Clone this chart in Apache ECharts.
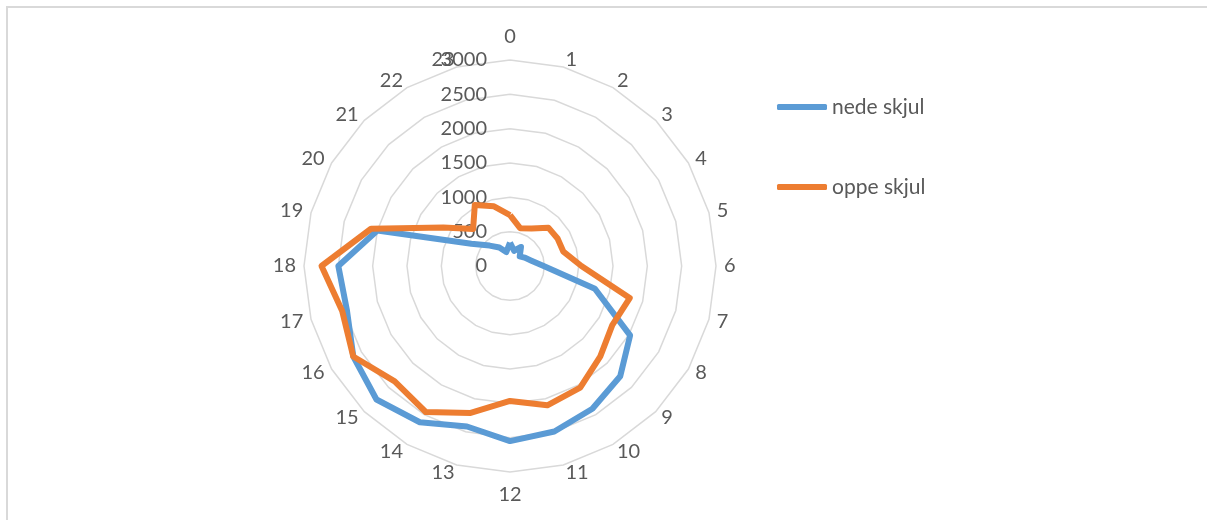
<!DOCTYPE html>
<html>
<head>
<meta charset="utf-8">
<script src="https://cdn.jsdelivr.net/npm/echarts@6/dist/echarts.min.js"></script>
<style>
html,body{margin:0;padding:0;background:#fff;}
#chart{width:1207px;height:520px;}
</style>
</head>
<body>
<div id="chart"></div>
<script>
// Categories (hours), clockwise from the top
var hours = ['0','1','2','3','4','5','6','7','8','9','10','11','12','13','14','15','16','17','18','19','20','21','22','23'];
var seriesNames = ['nede skjul', 'oppe skjul'];
// Values per hour
var nedeSkjul = [340, 230, 320, 200, 245, 315, 490, 1280, 2020, 2270, 2400, 2495, 2550, 2420, 2627, 2750, 2635, 2460, 2500, 2000, 650, 420, 310, 210];
var oppeSkjul = [740, 570, 630, 790, 800, 805, 1040, 1805, 1720, 1860, 2045, 2100, 1965, 2215, 2455, 2375, 2636, 2530, 2745, 2095, 1120, 760, 1025, 900];
var valueMax = 3000;
var valueStep = 500;
var valueTicks = ['0','500','1000','1500','2000','2500','3000'];

var FONT = 'Lato, "Open Sans", sans-serif';
var TXT = '#595959';

// ECharts radar runs counter-clockwise; reorder so the picture reads clockwise
function clockwiseOrder(arr) {
  var out = [arr[0]];
  for (var i = arr.length - 1; i >= 1; i--) out.push(arr[i]);
  return out;
}

var chart = echarts.init(document.getElementById('chart'), null, {renderer: 'canvas'});
var option = {
  animation: false,
  backgroundColor: '#ffffff',
  graphic: [{
    type: 'rect',
    shape: {x: 7, y: 7, width: 1215, height: 530},
    style: {fill: 'none', stroke: '#d9d9d9', lineWidth: 2},
    silent: true,
    z: -10
  }],
  legend: {
    orient: 'vertical',
    left: 772,
    top: 90,
    itemWidth: 50,
    itemHeight: 6,
    itemGap: 56,
    icon: 'roundRect',
    textStyle: {color: TXT, fontSize: 21, fontFamily: FONT, lineHeight: 24},
    data: seriesNames
  },
  radar: {
    center: [510, 266],
    radius: 206,
    startAngle: 90,
    shape: 'polygon',
    splitNumber: valueMax / valueStep,
    nameGap: 8,
    axisName: {color: TXT, fontSize: 20, fontFamily: FONT, padding: [5, 0, 5, 0]},
    indicator: clockwiseOrder(hours).map(function (h) { return {name: h, min: 0, max: valueMax}; }),
    splitLine: {lineStyle: {color: '#d9d9d9', width: 1.5}},
    splitArea: {show: false},
    axisLine: {show: false},
    axisTick: {show: false},
    axisLabel: {show: false}
  },
  grid: {left: 510, top: 60, width: 10, height: 206, containLabel: false},
  xAxis: {type: 'value', show: false, min: 0, max: 1},
  yAxis: {
    type: 'value', min: 0, max: valueMax, interval: valueStep,
    axisLine: {show: false}, axisTick: {show: false}, splitLine: {show: false},
    axisLabel: {
      margin: 23, color: TXT, fontSize: 20, fontFamily: FONT,
      formatter: function (v) { return valueTicks[Math.round(v / valueStep)]; }
    }
  },
  series: [{
    type: 'radar',
    symbol: 'none',
    data: [
      {name: seriesNames[0], value: clockwiseOrder(nedeSkjul),
       lineStyle: {color: '#5b9bd5', width: 6, join: 'round'}, itemStyle: {color: '#5b9bd5'}},
      {name: seriesNames[1], value: clockwiseOrder(oppeSkjul),
       lineStyle: {color: '#ed7d31', width: 6, join: 'round'}, itemStyle: {color: '#ed7d31'}}
    ]
  }]
};
chart.setOption(option);
</script>
</body>
</html>
